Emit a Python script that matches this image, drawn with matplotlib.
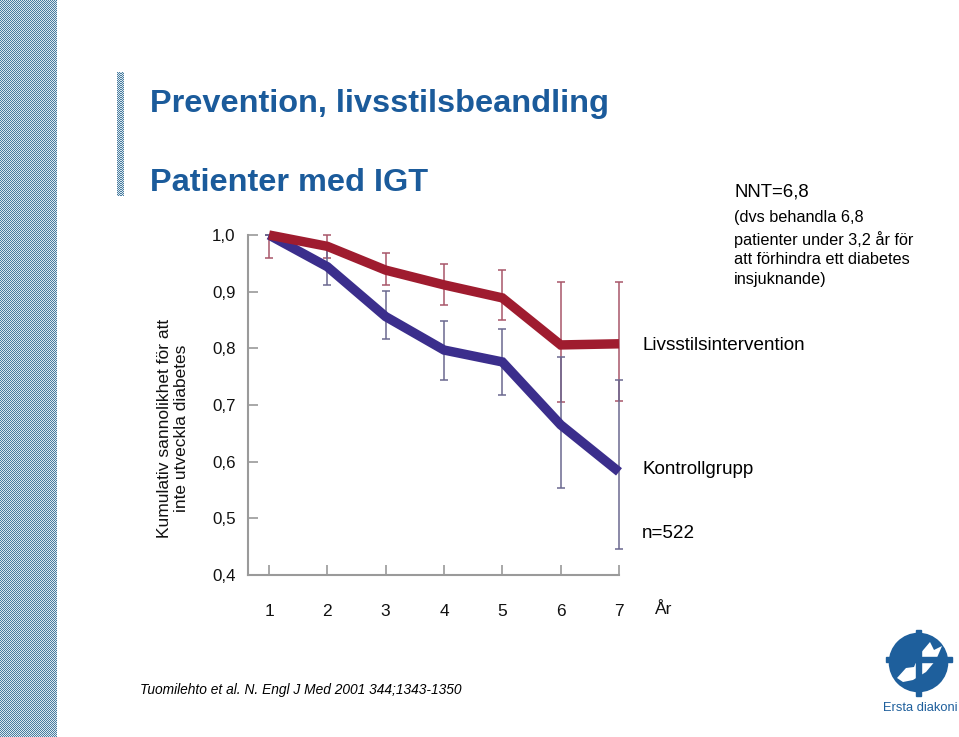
import numpy as np
import matplotlib
matplotlib.use("Agg")
import matplotlib.pyplot as plt
from matplotlib.patches import Circle, Rectangle, Polygon

plt.rcParams['font.family'] = ['Liberation Sans', 'DejaVu Sans']

# ---------------- data ----------------
years = [1, 2, 3, 4, 5, 6, 7]
year_labels = ["1", "2", "3", "4", "5", "6", "7"]
lifestyle = [1.0, 0.980, 0.938, 0.912, 0.889, 0.806, 0.808]
lifestyle_lo = [0.960, 0.960, 0.911, 0.876, 0.850, 0.706, 0.707]
lifestyle_hi = [1.0, 1.0, 0.969, 0.949, 0.939, 0.917, 0.917]
control = [1.0, 0.944, 0.856, 0.797, 0.776, 0.665, 0.582]
control_lo = [1.0, 0.912, 0.816, 0.744, 0.718, 0.553, 0.446]
control_hi = [1.0, 0.975, 0.902, 0.848, 0.834, 0.785, 0.744]
y_ticks = [0.4, 0.5, 0.6, 0.7, 0.8, 0.9, 1.0]
y_tick_labels = ["0,4", "0,5", "0,6", "0,7", "0,8", "0,9", "1,0"]

W, H = 959, 737
fig = plt.figure(figsize=(W / 100, H / 100), dpi=100)
fig.patch.set_facecolor("white")

def px(x, y):
    return x / W, 1 - y / H

# ---------------- decorative checker strips ----------------
def checker(x0, y0, w, h):
    a = fig.add_axes([x0 / W, 1 - (y0 + h) / H, w / W, h / H])
    yy, xx = np.mgrid[0:h, 0:w]
    pat = ((xx + yy) % 2)
    img = np.ones((h, w, 3))
    img[pat == 0] = np.array([0x4a, 0x7c, 0x9f]) / 255
    img[pat == 1] = np.array([0.86, 0.91, 0.94])
    a.imshow(img, aspect='auto', interpolation='nearest')
    a.axis('off')

checker(0, 0, 57, 737)
checker(117, 72, 6, 124)

# ---------------- titles ----------------
title_col = "#1b5b9b"
fig.text(*px(150, 104), "Prevention, livsstilsbeandling", fontsize=23.4,
         fontweight='bold', color=title_col, va='center', ha='left')
fig.text(*px(150, 183), "Patienter med IGT", fontsize=23.4,
         fontweight='bold', color=title_col, va='center', ha='left')

# ---------------- main axes ----------------
left, right, top, bottom = 248, 619, 235, 575
ax = fig.add_axes([left / W, 1 - bottom / H, (right - left) / W, (bottom - top) / H])
ax.set_xlim(0.64, 7.0)
ax.set_ylim(0.4, 1.0)

red = "#9f1c2f"
blue = "#3b2e8c"
red_eb = "#a8566a"
blue_eb = "#6b6890"

lf = np.array(lifestyle); ct = np.array(control)
ax.errorbar(years, lf, yerr=[lf - np.array(lifestyle_lo), np.array(lifestyle_hi) - lf],
            fmt='none', ecolor=red_eb, elinewidth=1.1, capsize=3, capthick=1.1,
            clip_on=False, zorder=2)
ax.errorbar(years, ct, yerr=[ct - np.array(control_lo), np.array(control_hi) - ct],
            fmt='none', ecolor=blue_eb, elinewidth=1.1, capsize=3, capthick=1.1,
            clip_on=False, zorder=2)
ax.plot(years, control, color=blue, lw=6.8, solid_joinstyle='miter',
        solid_capstyle='butt', clip_on=False, zorder=3)
ax.plot(years, lifestyle, color=red, lw=6.8, solid_joinstyle='miter',
        solid_capstyle='butt', clip_on=False, zorder=4)

for s in ['top', 'right']:
    ax.spines[s].set_visible(False)
for s in ['left', 'bottom']:
    ax.spines[s].set_color("#9a9a9a")
    ax.spines[s].set_linewidth(1.5)

ax.set_yticks(y_ticks)
ax.set_yticklabels(y_tick_labels)
ax.set_xticks(years)
ax.set_xticklabels(year_labels)
ax.tick_params(axis='y', direction='in', length=7, width=1.2, color="#9a9a9a",
               labelsize=12.2, pad=9, labelcolor="#111111")
ax.tick_params(axis='x', direction='in', length=7, width=1.2, color="#9a9a9a",
               labelsize=12.5, pad=21, labelcolor="#111111")
ax.patch.set_alpha(0)

fig.text(*px(655, 610), "År", fontsize=12.5, va='center', ha='left', color="#111111")

# y label
fig.text(*px(173, 428), "Kumulativ sannolikhet för att\ninte utveckla diabetes",
         rotation=90, fontsize=12.5, va='center', ha='center', color="#111111",
         linespacing=1.15)

# series labels
fig.text(*px(642, 345), "Livsstilsintervention", fontsize=13.6, va='center', ha='left')
fig.text(*px(642, 470), "Kontrollgrupp", fontsize=13.6, va='center', ha='left')
fig.text(*px(642, 533), "n=522", fontsize=13.6, va='center', ha='left')

# NNT text
fig.text(*px(734, 192), "NNT=6,8", fontsize=13.4, va='center', ha='left')
fig.text(*px(734, 210), "(dvs behandla 6,8\npatienter under 3,2 år för\natt förhindra ett diabetes\ninsjuknande)",
         fontsize=11.7, va='top', ha='left', linespacing=1.4)

# citation
fig.text(*px(140, 690), "Tuomilehto et al. N. Engl J Med 2001 344;1343-1350",
         fontsize=9.9, style='italic', va='center', ha='left')

# ---------------- logo ----------------
lax = fig.add_axes([0, 0, 1, 1], facecolor='none')
lax.set_xlim(0, W); lax.set_ylim(H, 0); lax.axis('off')
logo = "#1e5f9c"
cx, cy, r = 918.5, 662.5, 27
lax.add_patch(Circle((cx, cy), r, fc=logo, ec=logo, lw=4))
dove = [(897, 678), (906, 668), (914, 667), (919, 655), (930, 642), (934, 650),
        (942, 646), (936, 660), (926, 672), (913, 680), (903, 682)]
lax.add_patch(Polygon(dove, closed=True, fc='white', ec='none'))
lax.add_patch(Rectangle((cx - 2.5, cy - 33), 5, 66, color=logo))
lax.add_patch(Rectangle((cx - 33, cy - 6), 66, 5, color=logo))
lax.text(920, 708, "Ersta diakoni", fontsize=9.3, color=logo, ha='center', va='center')

fig.savefig("out.png", dpi=100)
